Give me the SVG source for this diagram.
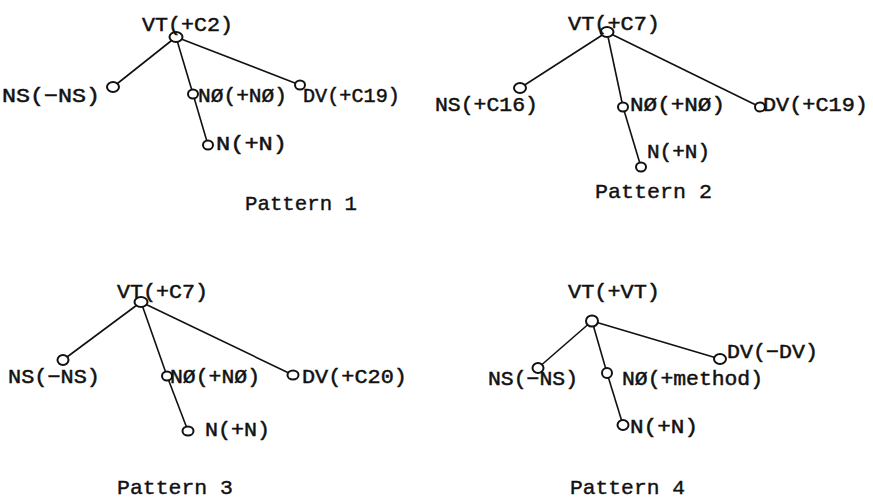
<svg xmlns="http://www.w3.org/2000/svg" width="873" height="500" viewBox="0 0 873 500">
<style>
.bg{fill:#ffffff}
.edge{stroke:#111;stroke-width:1.6;fill:none}
.dot{fill:#fff;stroke:#111;stroke-width:2}
.lbl{font-family:"Liberation Mono","Courier New",monospace;font-size:21px;fill:#111;stroke:#111;stroke-width:0.5}
.cap{font-family:"Liberation Mono","Courier New",monospace;font-size:21px;fill:#111;stroke:#111;stroke-width:0.4}
</style>
<rect class="bg" x="0" y="0" width="873" height="500"/>
<g id="connectors">
<line class="edge" x1="176" y1="37" x2="113" y2="87"/>
<line class="edge" x1="176" y1="37" x2="193" y2="94"/>
<line class="edge" x1="193" y1="94" x2="208" y2="145"/>
<line class="edge" x1="176" y1="37" x2="300" y2="85"/>
<line class="edge" x1="607" y1="32" x2="520" y2="88"/>
<line class="edge" x1="607" y1="32" x2="623" y2="107"/>
<line class="edge" x1="623" y1="107" x2="641" y2="167"/>
<line class="edge" x1="607" y1="32" x2="760" y2="107"/>
<line class="edge" x1="141" y1="302" x2="63" y2="360"/>
<line class="edge" x1="141" y1="302" x2="167" y2="376"/>
<line class="edge" x1="167" y1="376" x2="188" y2="431"/>
<line class="edge" x1="141" y1="302" x2="293" y2="375"/>
<line class="edge" x1="592" y1="321" x2="538" y2="368"/>
<line class="edge" x1="592" y1="321" x2="607" y2="373"/>
<line class="edge" x1="607" y1="373" x2="623" y2="425"/>
<line class="edge" x1="592" y1="321" x2="720" y2="359"/>
</g>
<g id="pattern1">
<g id="p1-vt"><ellipse class="dot" cx="176" cy="37" rx="6.5" ry="5"/><text class="lbl" x="142" y="31" textLength="91" lengthAdjust="spacingAndGlyphs">VT(+C2)</text></g>
<g id="p1-ns"><ellipse class="dot" cx="113" cy="87" rx="6" ry="5"/><text class="lbl" x="2" y="102" textLength="98" lengthAdjust="spacingAndGlyphs">NS(−NS)</text></g>
<g id="p1-no"><ellipse class="dot" cx="193" cy="94" rx="5" ry="4.5"/><text class="lbl" x="198" y="102" textLength="89" lengthAdjust="spacingAndGlyphs">NØ(+NØ)</text></g>
<g id="p1-n"><ellipse class="dot" cx="208" cy="145" rx="5" ry="4.5"/><text class="lbl" x="216" y="150" textLength="71" lengthAdjust="spacingAndGlyphs">N(+N)</text></g>
<g id="p1-dv"><ellipse class="dot" cx="300" cy="85" rx="5" ry="4.5"/><text class="lbl" x="303" y="102" textLength="97" lengthAdjust="spacingAndGlyphs">DV(+C19)</text></g>
<text id="p1-caption" class="cap" x="245" y="210" textLength="112" lengthAdjust="spacingAndGlyphs">Pattern 1</text>
</g>
<g id="pattern2">
<g id="p2-vt"><ellipse class="dot" cx="607" cy="32" rx="6.5" ry="5"/><text class="lbl" x="568" y="30" textLength="92" lengthAdjust="spacingAndGlyphs">VT(+C7)</text></g>
<g id="p2-ns"><ellipse class="dot" cx="520" cy="88" rx="6" ry="5"/><text class="lbl" x="435" y="111" textLength="103" lengthAdjust="spacingAndGlyphs">NS(+C16)</text></g>
<g id="p2-no"><ellipse class="dot" cx="623" cy="107" rx="5" ry="4.5"/><text class="lbl" x="630" y="111" textLength="95" lengthAdjust="spacingAndGlyphs">NØ(+NØ)</text></g>
<g id="p2-n"><ellipse class="dot" cx="641" cy="167" rx="5" ry="4.5"/><text class="lbl" x="647" y="158" textLength="63" lengthAdjust="spacingAndGlyphs">N(+N)</text></g>
<g id="p2-dv"><ellipse class="dot" cx="760" cy="107" rx="5" ry="4.5"/><text class="lbl" x="763" y="111" textLength="105" lengthAdjust="spacingAndGlyphs">DV(+C19)</text></g>
<text id="p2-caption" class="cap" x="595" y="198" textLength="117" lengthAdjust="spacingAndGlyphs">Pattern 2</text>
</g>
<g id="pattern3">
<g id="p3-vt"><ellipse class="dot" cx="141" cy="302" rx="6.5" ry="5"/><text class="lbl" x="117" y="298" textLength="91" lengthAdjust="spacingAndGlyphs">VT(+C7)</text></g>
<g id="p3-ns"><ellipse class="dot" cx="63" cy="360" rx="5.5" ry="5"/><text class="lbl" x="8" y="383" textLength="92" lengthAdjust="spacingAndGlyphs">NS(−NS)</text></g>
<g id="p3-no"><ellipse class="dot" cx="167" cy="376" rx="5" ry="4.5"/><text class="lbl" x="170" y="383" textLength="90" lengthAdjust="spacingAndGlyphs">NØ(+NØ)</text></g>
<g id="p3-n"><ellipse class="dot" cx="188" cy="431" rx="5.5" ry="4.5"/><text class="lbl" x="205" y="436" textLength="65" lengthAdjust="spacingAndGlyphs">N(+N)</text></g>
<g id="p3-dv"><ellipse class="dot" cx="293" cy="375" rx="5.5" ry="4.5"/><text class="lbl" x="302" y="383" textLength="105" lengthAdjust="spacingAndGlyphs">DV(+C20)</text></g>
<text id="p3-caption" class="cap" x="117" y="494" textLength="116" lengthAdjust="spacingAndGlyphs">Pattern 3</text>
</g>
<g id="pattern4">
<g id="p4-vt"><ellipse class="dot" cx="592" cy="321" rx="6" ry="5.5"/><text class="lbl" x="568" y="298" textLength="92" lengthAdjust="spacingAndGlyphs">VT(+VT)</text></g>
<g id="p4-ns"><ellipse class="dot" cx="538" cy="368" rx="5.5" ry="5"/><text class="lbl" x="488" y="385" textLength="90" lengthAdjust="spacingAndGlyphs">NS(−NS)</text></g>
<g id="p4-no"><ellipse class="dot" cx="607" cy="373" rx="5" ry="5"/><text class="lbl" x="622" y="385" textLength="141" lengthAdjust="spacingAndGlyphs">NØ(+method)</text></g>
<g id="p4-n"><ellipse class="dot" cx="623" cy="425" rx="5.5" ry="5"/><text class="lbl" x="630" y="433" textLength="68" lengthAdjust="spacingAndGlyphs">N(+N)</text></g>
<g id="p4-dv"><ellipse class="dot" cx="720" cy="359" rx="6" ry="5"/><text class="lbl" x="727" y="358" textLength="91" lengthAdjust="spacingAndGlyphs">DV(−DV)</text></g>
<text id="p4-caption" class="cap" x="570" y="494" textLength="115" lengthAdjust="spacingAndGlyphs">Pattern 4</text>
</g>
</svg>
